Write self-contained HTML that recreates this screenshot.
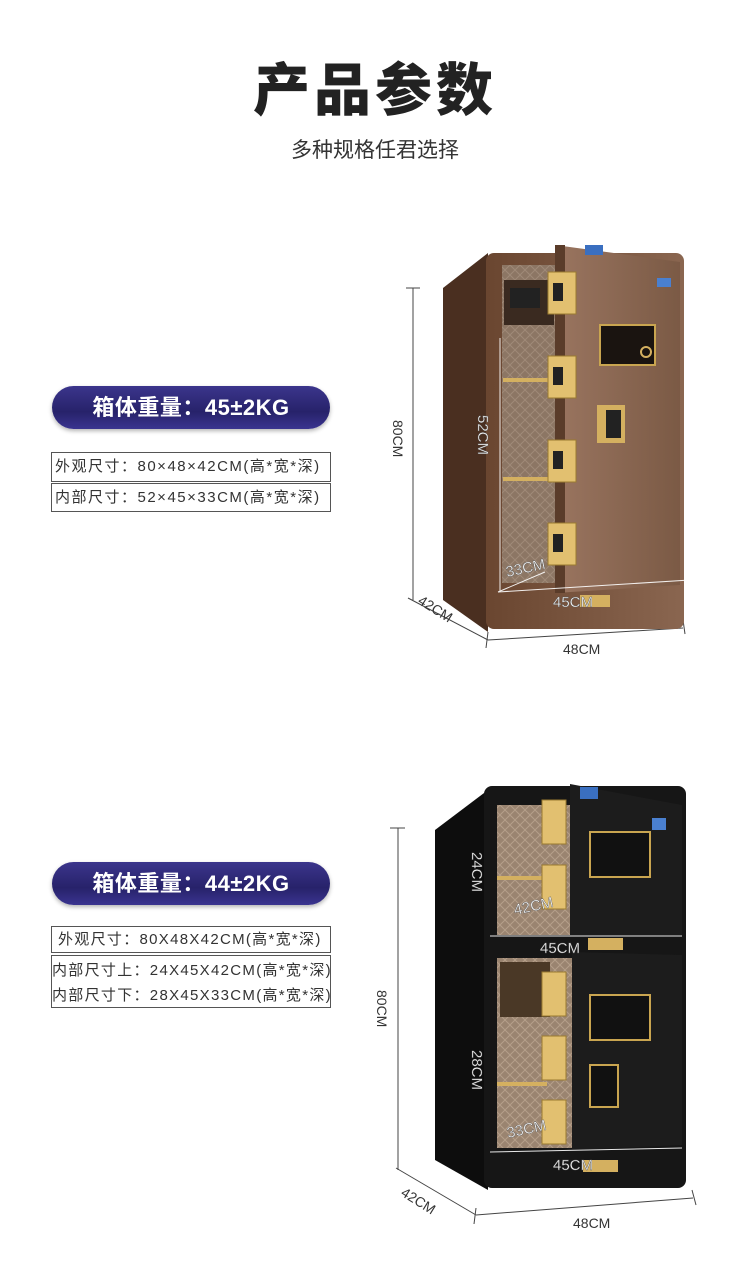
<!DOCTYPE html>
<html><head><meta charset="utf-8"><style>
body{margin:0;width:750px;height:1267px;background:#fff;position:relative;overflow:hidden;font-family:"Liberation Sans","Noto Sans CJK SC",sans-serif;color:#333}
.a{position:absolute}
.pill{position:absolute;left:52px;width:278px;height:43px;border-radius:22px;background:linear-gradient(#3b358c,#27226a 60%,#3a3490);color:#fff;font-size:22px;font-weight:bold;text-align:center;line-height:43px;letter-spacing:0.5px;box-shadow:0 2px 4px rgba(0,0,0,.3)}
.tb{position:absolute;left:51px;width:280px;border:1px solid #555;font-size:15px;color:#333;box-sizing:border-box;white-space:nowrap;letter-spacing:1.5px}
.tb div{padding-left:3px}
</style></head><body>
<div class="a" style="left:0;width:750px;top:45px;text-align:center;font-size:57px;font-weight:900;color:#222;letter-spacing:4px">产品参数</div>
<div class="a" style="left:0;width:750px;top:134px;text-align:center;font-size:21px;color:#333">多种规格任君选择</div>

<div class="pill" style="top:386px">箱体重量：45±2KG</div>
<div class="tb" style="top:452px;height:30px;line-height:28px"><div>外观尺寸：80×48×42CM(高*宽*深)</div></div>
<div class="tb" style="top:483px;height:29px;line-height:27px"><div>内部尺寸：52×45×33CM(高*宽*深)</div></div>

<div class="pill" style="top:862px">箱体重量：44±2KG</div>
<div class="tb" style="top:926px;height:27px;line-height:26px;letter-spacing:1.3px"><div style="padding-left:6px">外观尺寸：80X48X42CM(高*宽*深)</div></div>
<div class="tb" style="top:955px;height:53px;line-height:25px;padding-top:2px;letter-spacing:1.3px"><div style="padding-left:0">内部尺寸上：24X45X42CM(高*宽*深)</div><div style="padding-left:0">内部尺寸下：28X45X33CM(高*宽*深)</div></div>

<svg class="a" style="left:0;top:0" width="750" height="1267">
<defs>
<linearGradient id="br" x1="0" x2="1"><stop offset="0" stop-color="#6a4630"/><stop offset="1" stop-color="#8a6650"/></linearGradient>
<linearGradient id="dr" x1="0" x2="1"><stop offset="0" stop-color="#9a7560"/><stop offset="1" stop-color="#7b5a45"/></linearGradient>
<pattern id="qt" width="10" height="10" patternUnits="userSpaceOnUse"><rect width="10" height="10" fill="#8c7664"/><path d="M0 5L5 0L10 5L5 10Z" fill="none" stroke="#a08a78" stroke-width="1"/></pattern>
<pattern id="qt2" width="10" height="10" patternUnits="userSpaceOnUse"><rect width="10" height="10" fill="#9a8470"/><path d="M0 5L5 0L10 5L5 10Z" fill="none" stroke="#b59f8a" stroke-width="1"/></pattern>
</defs>
<g fill="none" stroke="#444" stroke-width="1">
<line x1="413" y1="288" x2="413" y2="600"/><line x1="406" y1="288" x2="420" y2="288"/>
<line x1="408" y1="598" x2="488" y2="640"/><line x1="488" y1="632" x2="486" y2="648"/>
<line x1="488" y1="640" x2="683" y2="628"/><line x1="683" y1="620" x2="685" y2="634"/>
<line x1="398" y1="828" x2="398" y2="1170"/><line x1="390" y1="828" x2="405" y2="828"/>
<line x1="396" y1="1168" x2="476" y2="1215"/><line x1="476" y1="1208" x2="474" y2="1224"/>
<line x1="476" y1="1215" x2="693" y2="1198"/><line x1="692" y1="1190" x2="696" y2="1205"/>
</g>
<path d="M443 288 L488 253 L488 632 L443 600 Z" fill="#4a2f20"/>
<rect x="486" y="253" width="198" height="376" rx="8" fill="url(#br)"/>
<rect x="502" y="265" width="60" height="318" fill="url(#qt)"/>
<rect x="504" y="280" width="50" height="45" fill="#3a2a20"/><rect x="510" y="288" width="30" height="20" fill="#222"/>
<rect x="503" y="378" width="50" height="4" fill="#d4b060"/><rect x="503" y="477" width="50" height="4" fill="#d4b060"/>
<path d="M555 245 L680 262 L680 585 L555 593 Z" fill="url(#dr)"/>
<path d="M555 245 L565 245 L565 593 L555 593Z" fill="#5a3c2a"/>
<g fill="#e2c070" stroke="#9a7a30"><rect x="548" y="272" width="28" height="42"/><rect x="548" y="356" width="28" height="42"/><rect x="548" y="440" width="28" height="42"/><rect x="548" y="523" width="28" height="42"/></g>
<g fill="#222"><rect x="553" y="283" width="10" height="18"/><rect x="553" y="367" width="10" height="18"/><rect x="553" y="451" width="10" height="18"/><rect x="553" y="534" width="10" height="18"/></g>
<rect x="600" y="325" width="55" height="40" fill="#1a1410" stroke="#c9a550" stroke-width="2"/>
<circle cx="646" cy="352" r="5" fill="none" stroke="#d4b060" stroke-width="2"/>
<rect x="597" y="405" width="28" height="38" fill="#d4b060"/><rect x="606" y="410" width="15" height="28" fill="#222"/>
<rect x="585" y="245" width="18" height="10" fill="#3a6fc0"/><rect x="657" y="278" width="14" height="9" fill="#4a80d0"/>
<rect x="580" y="595" width="30" height="12" fill="#d4b060"/>
<g stroke="#fff" stroke-width="1" opacity=".9"><line x1="500" y1="338" x2="500" y2="592"/><line x1="498" y1="592" x2="690" y2="580"/><line x1="498" y1="592" x2="545" y2="572"/></g>
<path d="M435 830 L488 790 L488 1190 L435 1160 Z" fill="#0d0d0d"/>
<rect x="484" y="786" width="202" height="402" rx="8" fill="#161616"/>
<rect x="497" y="805" width="75" height="130" fill="url(#qt2)"/>
<rect x="497" y="958" width="75" height="190" fill="url(#qt2)"/>
<rect x="500" y="962" width="50" height="55" fill="#4a3826"/>
<rect x="497" y="876" width="50" height="4" fill="#d4b060"/><rect x="497" y="1082" width="50" height="4" fill="#d4b060"/>
<path d="M570 784 L682 805 L682 935 L570 937Z" fill="#1c1c1c"/>
<path d="M572 952 L682 955 L682 1145 L572 1150Z" fill="#1c1c1c"/>
<g fill="#e2c070" stroke="#9a7a30"><rect x="542" y="800" width="24" height="44"/><rect x="542" y="865" width="24" height="44"/><rect x="542" y="972" width="24" height="44"/><rect x="542" y="1036" width="24" height="44"/><rect x="542" y="1100" width="24" height="44"/></g>
<rect x="590" y="832" width="60" height="45" fill="#111" stroke="#c9a550" stroke-width="2"/>
<rect x="590" y="995" width="60" height="45" fill="#111" stroke="#c9a550" stroke-width="2"/>
<rect x="590" y="1065" width="28" height="42" fill="#111" stroke="#c9a550" stroke-width="2"/>
<rect x="580" y="787" width="18" height="12" fill="#3a6fc0"/><rect x="652" y="818" width="14" height="12" fill="#4a80d0"/>
<rect x="588" y="938" width="35" height="12" fill="#d4b060"/><rect x="583" y="1160" width="35" height="12" fill="#d4b060"/>
<g stroke="#fff" stroke-width="1" opacity=".9"><line x1="490" y1="936" x2="682" y2="936"/><line x1="490" y1="1152" x2="682" y2="1148"/></g>
<g font-family="Liberation Sans, sans-serif" font-size="14" fill="#333">
<text transform="translate(393,420) rotate(90)">80CM</text>
<text transform="translate(417,603) rotate(32)">42CM</text>
<text x="563" y="654">48CM</text>
<text transform="translate(377,990) rotate(90)">80CM</text>
<text transform="translate(400,1195) rotate(32)">42CM</text>
<text x="573" y="1228">48CM</text>
</g>
<g font-family="Liberation Sans, sans-serif" font-size="15" fill="#fff" stroke="#555" stroke-width=".4">
<text transform="translate(478,415) rotate(90)">52CM</text>
<text x="507" y="577" transform="rotate(-12 507 577)">33CM</text>
<text x="553" y="607">45CM</text>
<text transform="translate(472,852) rotate(90)">24CM</text>
<text x="515" y="915" transform="rotate(-12 515 915)">42CM</text>
<text x="540" y="953">45CM</text>
<text transform="translate(472,1050) rotate(90)">28CM</text>
<text x="508" y="1138" transform="rotate(-12 508 1138)">33CM</text>
<text x="553" y="1170">45CM</text>
</g>
</svg>
</body></html>
